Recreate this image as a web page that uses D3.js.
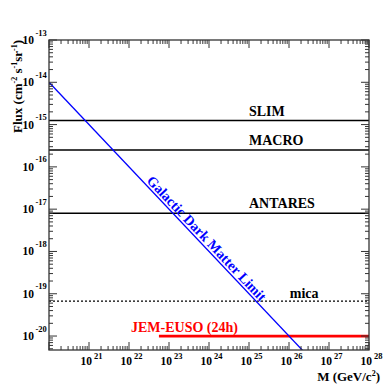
<!DOCTYPE html>
<html>
<head>
<meta charset="utf-8">
<script src="https://cdn.jsdelivr.net/npm/d3@7"></script>
<style>
body { margin: 0; background: #fff; }
text { font-family: "Liberation Serif", "Times New Roman", serif; font-weight: bold; }
</style>
</head>
<body>
<svg id="chart" width="389" height="389"></svg>
<script>
// decades shown on the axes
var xExponents = [21, 22, 23, 24, 25, 26, 27, 28];
var yExponents = [-13, -14, -15, -16, -17, -18, -19, -20];

// experimental flux limits (horizontal lines)
var limitNames = ["SLIM", "MACRO", "ANTARES", "mica"];
var limitFlux = [1.25e-15, 2.5e-16, 8e-18, 6.7e-20];

// JEM-EUSO 24h sensitivity
var jemName = "JEM-EUSO (24h)";
var jemMass = [5.6e22, 1e28];
var jemFlux = [1e-20, 1e-20];

// galactic dark matter limit
var galName = "Galactic Dark Matter Limit";
var galMass = [1e20, 1e28];
var galFlux = [1e-14, 1e-22];

// frame (window.top is reserved, so use other names)
var fLeft = 49, fRight = 369, fTop = 40, fBottom = 350;

var svg = d3.select("#chart");

var x = d3.scaleLog().domain([1e20, 1e28]).range([fLeft, fRight]);
var y = d3.scaleLog().domain([Math.pow(10, -20.33), 1e-13]).range([fBottom, fTop]);

svg.append("clipPath").attr("id", "frame")
	.append("rect")
		.attr("x", fLeft).attr("y", fTop)
		.attr("width", fRight - fLeft).attr("height", fBottom - fTop);

var plot = svg.append("g").attr("clip-path", "url(#frame)");

// limit lines
plot.selectAll(".limit")
	.data(limitFlux)
	.enter().append("line")
		.attr("class", "limit")
		.attr("x1", fLeft).attr("x2", fRight)
		.attr("y1", function(d) { return y(d); })
		.attr("y2", function(d) { return y(d); })
		.attr("stroke", "#000")
		.attr("stroke-width", function(d, i) { return i == 3 ? 1.2 : 1.5; })
		.attr("stroke-dasharray", function(d, i) { return i == 3 ? "2,2" : null; });

// JEM-EUSO
plot.append("line")
	.attr("x1", x(jemMass[0])).attr("x2", x(jemMass[1]))
	.attr("y1", y(jemFlux[0])).attr("y2", y(jemFlux[1]))
	.attr("stroke", "#ff0000")
	.attr("stroke-width", 2.8);

// galactic line
plot.append("line")
	.attr("x1", x(galMass[0])).attr("x2", x(galMass[1]))
	.attr("y1", y(galFlux[0])).attr("y2", y(galFlux[1]))
	.attr("stroke", "#0000ff")
	.attr("stroke-width", 1.3);

// labels
var labelX = [25.0, 25.0, 25.0, 26.02];
var labelDy = [-4.5, -5, -5, -3];
svg.selectAll(".limit-label")
	.data(limitNames)
	.enter().append("text")
		.attr("class", "limit-label")
		.attr("x", function(d, i) { return x(Math.pow(10, labelX[i])); })
		.attr("y", function(d, i) { return y(limitFlux[i]) + labelDy[i]; })
		.attr("font-size", 14)
		.text(function(d) { return d; });

svg.append("text")
	.attr("x", x(Math.pow(10, 22.05)))
	.attr("y", y(jemFlux[0]) - 4)
	.attr("font-size", 14)
	.attr("fill", "#ff0000")
	.text(jemName);

// text along the galactic line
var gx0 = x(galMass[0]), gy0 = y(galFlux[0]), gx1 = x(galMass[1]), gy1 = y(galFlux[1]);
var angle = Math.atan2(gy1 - gy0, gx1 - gx0) * 180 / Math.PI;
var tM = Math.pow(10, 22.38);
var tF = galFlux[0] * galMass[0] / tM;
svg.append("text")
	.attr("transform", "translate(" + x(tM) + "," + y(tF) + ") rotate(" + angle + ")")
	.attr("y", -2.5)
	.attr("font-size", 14)
	.attr("fill", "#0000ff")
	.text(galName);

// ticks on all four sides
var axisColor = "#333";
var xt = x.ticks(), yt = y.ticks();
function isMajor(v) { var l = Math.log10(v); return Math.abs(l - Math.round(l)) < 1e-6; }

var ticks = svg.append("g").attr("stroke", axisColor).attr("stroke-width", 1);
xt.forEach(function(v) {
	var len = isMajor(v) ? 8 : 4, px = x(v);
	ticks.append("line").attr("x1", px).attr("x2", px).attr("y1", fBottom).attr("y2", fBottom - len);
	ticks.append("line").attr("x1", px).attr("x2", px).attr("y1", fTop).attr("y2", fTop + len);
});
yt.forEach(function(v) {
	var len = isMajor(v) ? 8 : 4, py = y(v);
	ticks.append("line").attr("x1", fLeft).attr("x2", fLeft + len).attr("y1", py).attr("y2", py);
	ticks.append("line").attr("x1", fRight).attr("x2", fRight - len).attr("y1", py).attr("y2", py);
});

svg.append("rect")
	.attr("x", fLeft).attr("y", fTop)
	.attr("width", fRight - fLeft).attr("height", fBottom - fTop)
	.attr("fill", "none")
	.attr("stroke", axisColor)
	.attr("stroke-width", 1.3);

// tick labels
var xl = svg.append("g");
xExponents.forEach(function(e) {
	var px = x(Math.pow(10, e));
	xl.append("text").attr("x", px + 3).attr("y", 365).attr("font-size", 11.5)
		.attr("text-anchor", "end").text("10");
	xl.append("text").attr("x", px + 5).attr("y", 358.5).attr("font-size", 8.5).text(e);
});

var yl = svg.append("g");
yExponents.forEach(function(e) {
	var py = y(Math.pow(10, e));
	yl.append("text").attr("x", 34).attr("y", py + 4).attr("font-size", 11.5)
		.attr("text-anchor", "end").text("10");
	yl.append("text").attr("x", 35.5).attr("y", py - 4.5).attr("font-size", 8.5).text(e);
});

// axis titles
var yTitle = svg.append("text")
	.attr("transform", "translate(22," + fTop + ") rotate(-90)")
	.attr("text-anchor", "end")
	.attr("font-size", 13);
yTitle.append("tspan").text("Flux (cm");
yTitle.append("tspan").attr("dy", -5).attr("font-size", 8).text("-2");
yTitle.append("tspan").attr("dy", 5).text(" s");
yTitle.append("tspan").attr("dy", -5).attr("font-size", 8).text("-1");
yTitle.append("tspan").attr("dy", 5).text("sr");
yTitle.append("tspan").attr("dy", -5).attr("font-size", 8).text("-1");
yTitle.append("tspan").attr("dy", 5).text(")");

var xTitle = svg.append("text")
	.attr("x", 380).attr("y", 381)
	.attr("text-anchor", "end")
	.attr("font-size", 13);
xTitle.append("tspan").text("M (GeV/c");
xTitle.append("tspan").attr("dy", -5).attr("font-size", 8).text("2");
xTitle.append("tspan").attr("dy", 5).text(")");
</script>
</body>
</html>
